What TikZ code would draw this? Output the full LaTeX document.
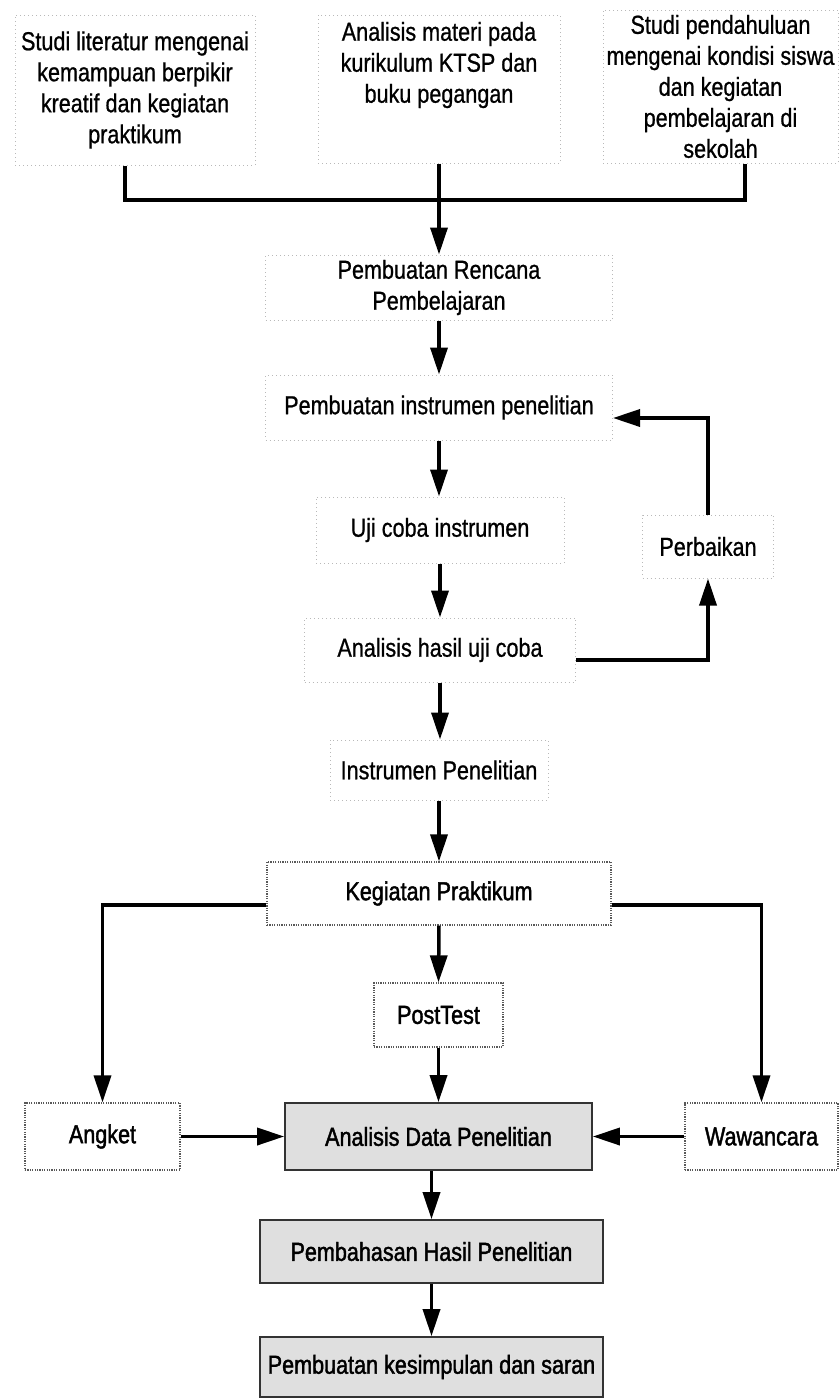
\documentclass[tikz,border=0pt]{standalone}
\usepackage{fontspec}
\setmainfont{Liberation Sans}[FakeStretch=0.83,FakeBold=0.8]
\newfontfamily\heavyfont{Liberation Sans}[FakeStretch=0.83,FakeBold=1.6]
\usetikzlibrary{arrows.meta}

\begin{document}
\begin{tikzpicture}[x=1pt,y=-1pt,
  lbl/.style={font=\fontsize{26}{31}\selectfont, align=center, inner sep=0pt},
  faint/.style={lbl, draw=gray!55, dash pattern=on 1pt off 3pt, line width=1pt},
  dark/.style={lbl, draw=black!65, dash pattern=on 1.2pt off 1.2pt, line width=1.3pt, font=\heavyfont\fontsize{26}{31}\selectfont},
  shaded/.style={dark, fill=gray!25, draw=black!80, solid, line width=1.6pt},
  conn/.style={line width=3.5pt, draw=black},
  arrow/.style={conn, -{Triangle[length=27pt,width=17pt]}}]
\useasboundingbox (0,0) rectangle (840,1398);

% top row
\node[faint, minimum width=240pt, minimum height=150pt] (s1) at (135,90)
  {Studi literatur mengenai\\kemampuan berpikir\\kreatif dan kegiatan\\praktikum};
\node[faint, minimum width=242pt, minimum height=148pt] (s2) at (439,89) {};
\node[lbl] (s2t) at (439,65) {Analisis materi pada\\kurikulum KTSP dan\\buku pegangan};
\node[faint, minimum width=235pt, minimum height=153pt] (s3) at (720.5,86.5)
  {Studi pendahuluan\\mengenai kondisi siswa\\dan kegiatan\\pembelajaran di\\sekolah};
\coordinate (j) at (439,200);

% main chain
\node[faint, minimum width=347pt, minimum height=65pt] (r1) at (439,287.5) {Pembuatan Rencana\\Pembelajaran};
\node[faint, minimum width=347pt, minimum height=65pt] (r2) at (439,407.5) {Pembuatan instrumen penelitian};
\node[faint, minimum width=248pt, minimum height=66pt] (r3) at (440,530) {Uji coba instrumen};
\node[faint, minimum width=131pt, minimum height=63pt] (perb) at (708,546.5) {Perbaikan};
\node[faint, minimum width=271pt, minimum height=64pt] (r4) at (440,650) {Analisis hasil uji coba};
\node[faint, minimum width=218pt, minimum height=60pt] (r5) at (439,770) {Instrumen Penelitian};

% lower part
\node[dark, minimum width=344pt, minimum height=63pt] (keg) at (439,893.5) {Kegiatan Praktikum};
\node[dark, minimum width=129pt, minimum height=64pt] (post) at (438.5,1015) {PostTest};
\node[dark, minimum width=155pt, minimum height=67pt] (ang) at (102.5,1136.5) {Angket};
\node[shaded, minimum width=307pt, minimum height=67pt] (ad) at (438.5,1136.5) {Analisis Data Penelitian};
\node[dark, minimum width=153pt, minimum height=67pt] (waw) at (761.5,1136.5) {Wawancara};
\node[shaded, minimum width=343pt, minimum height=63pt] (pem) at (431.5,1251.5) {Pembahasan Hasil Penelitian};
\node[shaded, minimum width=343pt, minimum height=60pt] (kes) at (431.5,1367) {Pembuatan kesimpulan dan saran};

% connectors
\draw[conn] ([xshift=-10pt]s1.south) |- (j) -| ([xshift=24.5pt]s3.south);
\draw[arrow] (s2.south) -- (r1.north);
\draw[arrow] (r1.south) -- (r2.north);
\draw[arrow] (r2.south) -- (r3.north -| r2.south);
\draw[arrow] (r3.south) -- (r4.north);
\draw[arrow] (r4.south) -- (r5.north -| r4.south);
\draw[arrow] ([yshift=-10pt]r4.east) -| (perb.south);
\draw[arrow] (perb.north) |- ([yshift=-10.5pt]r2.east);
\draw[arrow] (r5.south) -- (keg.north);
\draw[arrow] ([yshift=-11.5pt]keg.west) -| (ang.north);
\draw[arrow] ([yshift=-11.5pt]keg.east) -| (waw.north);
\draw[arrow] (keg.south) -- (post.north);
\draw[arrow] (post.south) -- (ad.north);
\draw[arrow] (ang.east) -- (ad.west);
\draw[arrow] (waw.west) -- (ad.east);
\draw[arrow] (pem.north |- ad.south) -- (pem.north);
\draw[arrow] (pem.south) -- (kes.north);
\end{tikzpicture}
\end{document}
